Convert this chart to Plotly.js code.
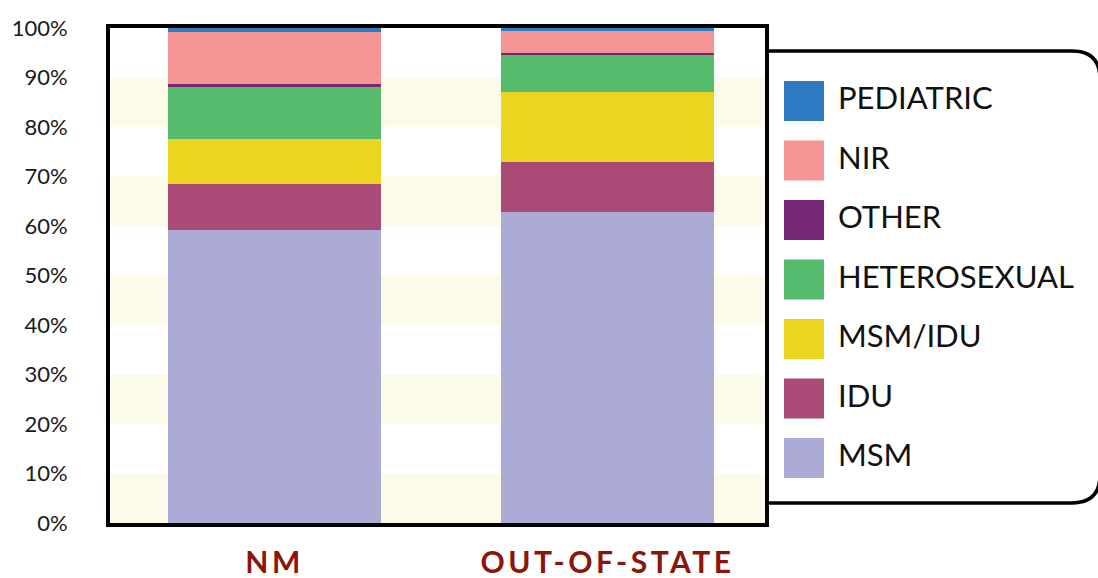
<!DOCTYPE html>
<html>
<head>
<meta charset="utf-8">
<script src="https://cdn.plot.ly/plotly-3.0.1.min.js"></script>
<style>
  html, body { margin: 0; padding: 0; background: #fff; }
  #chart { width: 1098px; height: 578px; }
  .xtick text { letter-spacing: 3.5px; }
</style>
</head>
<body>
<div id="chart"></div>
<script>
// ---- data ----
const categories = ['NM', 'OUT-OF-STATE'];
const seriesNames = ['MSM', 'IDU', 'MSM/IDU', 'HETEROSEXUAL', 'OTHER', 'NIR', 'PEDIATRIC'];
const msm        = [59.2, 62.9];
const idu        = [9.3, 10.0];
const msmIdu     = [9.1, 14.1];
const hetero     = [10.5, 7.5];
const other      = [0.6, 0.4];
const nir        = [10.4, 4.4];
const pediatric  = [0.9, 0.7];
const seriesColors = ['#ABABD5', '#AA4A77', '#EAD621', '#56BB6C', '#772673', '#F59494', '#2E7BC4'];
const yTickVals = [0, 10, 20, 30, 40, 50, 60, 70, 80, 90, 100];
const yTickText = ['0%', '10%', '20%', '30%', '40%', '50%', '60%', '70%', '80%', '90%', '100%'];
const bandStarts = [0, 20, 40, 60, 80];

const seriesValues = [msm, idu, msmIdu, hetero, other, nir, pediatric];

// ---- geometry ----
const W = 1098, H = 578;
const M = { l: 110, r: 333, t: 28, b: 55 };
const PW = W - M.l - M.r, PH = H - M.t - M.b;
const px2x = p => (p - M.l) / PW;
const py2y = p => (H - M.b - p) / PH;

const traces = seriesNames.map((name, i) => ({
  type: 'bar',
  name: name,
  x: categories,
  y: seriesValues[i],
  width: 0.64,
  marker: { color: seriesColors[i], line: { width: 0 } },
  showlegend: false,
  hoverinfo: 'x+y+name'
}));

const shapes = [];
bandStarts.forEach(b => {
  shapes.push({
    type: 'rect', xref: 'paper', yref: 'y', x0: 0, x1: 1, y0: b, y1: b + 10,
    fillcolor: '#FCFBEA', line: { width: 0 }, layer: 'below'
  });
});
// plot frame
shapes.push({
  type: 'rect', xref: 'paper', yref: 'paper',
  x0: -2 / PW, x1: 1 + 2 / PW, y0: -2 / PH, y1: 1 + 2 / PH,
  line: { color: '#000', width: 4 }, fillcolor: 'rgba(0,0,0,0)', layer: 'above'
});
// legend box with rounded right corners
const lx0 = 767, lx1 = 1100, ly0 = 51, ly1 = 503, rad = 28;
const pathStr = [
  'M', px2x(lx0), py2y(ly0),
  'L', px2x(lx1 - rad), py2y(ly0),
  'Q', px2x(lx1), py2y(ly0), px2x(lx1), py2y(ly0 + rad),
  'L', px2x(lx1), py2y(ly1 - rad),
  'Q', px2x(lx1), py2y(ly1), px2x(lx1 - rad), py2y(ly1),
  'L', px2x(lx0), py2y(ly1)
].join(' ');
shapes.push({
  type: 'path', xref: 'paper', yref: 'paper', path: pathStr,
  line: { color: '#000', width: 3.5 }, fillcolor: 'rgba(0,0,0,0)'
});

const annotations = [];
const legendOrder = seriesNames.map((n, i) => i).reverse();
const rowTop = 81, rowStep = 59.5, sw = 40, swX = 784, txtX = 836;
legendOrder.forEach((si, k) => {
  const top = rowTop + k * rowStep;
  shapes.push({
    type: 'rect', xref: 'paper', yref: 'paper',
    x0: px2x(swX), x1: px2x(swX + sw), y0: py2y(top + sw), y1: py2y(top),
    fillcolor: seriesColors[si], line: { width: 0 }
  });
  annotations.push({
    xref: 'paper', yref: 'paper', x: px2x(txtX), y: py2y(top + sw / 2 - 4),
    xanchor: 'left', yanchor: 'middle', showarrow: false,
    text: seriesNames[si],
    font: { family: 'Lato, sans-serif', size: 31, color: '#111' }
  });
});

const layout = {
  width: W, height: H,
  margin: M,
  barmode: 'stack',
  paper_bgcolor: '#fff',
  plot_bgcolor: '#fff',
  showlegend: false,
  xaxis: {
    type: 'category',
    range: [-0.494, 1.473],
    showgrid: false, zeroline: false, showline: false,
    ticks: 'outside', ticklen: 13, tickcolor: 'rgba(0,0,0,0)',
    tickfont: { family: 'Lato, sans-serif', size: 30, color: '#8B1509', weight: 'bold' }
  },
  yaxis: {
    range: [0, 100],
    tickvals: yTickVals, ticktext: yTickText,
    showgrid: false, zeroline: false, showline: false,
    ticks: 'outside', ticklen: 37, tickcolor: 'rgba(0,0,0,0)',
    tickfont: { family: 'Lato, sans-serif', size: 22, color: '#1a1a1a' }
  },
  shapes: shapes,
  annotations: annotations
};

Plotly.newPlot('chart', traces, layout, { displayModeBar: false, staticPlot: true });
</script>
</body>
</html>
